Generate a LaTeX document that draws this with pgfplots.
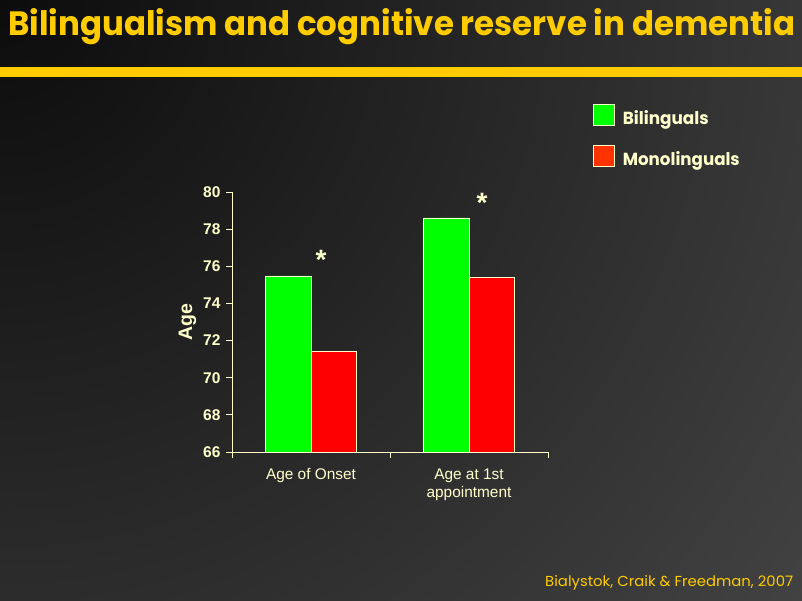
\documentclass[border=0pt]{standalone}
\usepackage{pgfplots}
\pgfplotsset{compat=1.18}
\usepackage{fontspec}
\setmainfont{Liberation Sans}
\newfontfamily\comic{Poppins}
\usepackage{graphicx}
\definecolor{bgdark}{HTML}{0C0C0C}
\definecolor{bggray}{HTML}{4A4A4A}
\definecolor{titleyellow}{HTML}{FFCC00}
\definecolor{cream}{HTML}{FFFFCC}
\definecolor{bargreen}{HTML}{00FF00}
\definecolor{barred}{HTML}{FF0000}
\definecolor{legred}{HTML}{FF3300}
\begin{document}
\begin{tikzpicture}[x=1pt,y=1pt]
\useasboundingbox (0,0) rectangle (802,601);
\fill[bggray] (0,0) rectangle (802,601);
\begin{scope}
\clip (0,0) rectangle (802,601);
\shade[inner color=bgdark, outer color=bggray] (0,601) circle (1150pt);
\end{scope}
% title
\node[anchor=base west, inner sep=0pt, text=titleyellow] at (8,565)
  {\resizebox{787pt}{27pt}{\comic\bfseries Bilingualism and cognitive reserve in dementia}};
\fill[titleyellow] (0,524) rectangle (802,534);
% citation
\node[anchor=base west, inner sep=0pt, text=titleyellow] at (545,14)
  {\resizebox{248pt}{11pt}{\comic Bialystok, Craik \& Freedman, 2007}};
\begin{axis}[
  at={(232pt,149pt)}, anchor=south west,
  scale only axis, width=316pt, height=260pt,
  xmin=-0.5, xmax=1.5, ymin=66, ymax=80,
  axis x line*=bottom, axis y line*=left,
  axis line style={cream, line width=0.9pt},
  every tick/.style={cream, line width=0.9pt},
  tick align=outside, major tick length=6pt,
  ytick={66,68,...,80},
  yticklabel style={font=\fontsize{15.5}{18}\selectfont\bfseries, text=cream, xshift=-2pt},
  /pgf/number format/assume math mode=true,
  xtick={-0.5,0.5,1.5}, xticklabels={},
  extra x ticks={0,1},
  extra x tick labels={Age of Onset, {Age at 1st\\appointment}},
  extra x tick style={major tick length=0pt,
     xticklabel style={font=\fontsize{15.4}{18.5}\selectfont, text=cream, align=center, yshift=-13pt}},
  ylabel={Age},
  ylabel shift=0pt,
  ylabel style={font=\fontsize{19.5}{22}\selectfont\bfseries, text=cream},
  ybar, bar width=0.288,
  clip=true,
  legend style={draw=none, fill=none, at={(1.1424,1.338)}, anchor=north west,
     inner sep=0pt, outer sep=0pt, row sep=13pt, column sep=8pt,
     nodes={inner sep=0pt, text=cream}},
  legend cell align=left,
  legend image code/.code={\draw[#1] (0pt,-4pt) rectangle (21pt,17pt);},
]
\addplot[fill=bargreen, draw=cream, line width=0.7pt, bar shift=-0.144, forget plot]
  coordinates {(0,75.48) (1,78.6)};
\addplot[fill=barred, draw=cream, line width=0.7pt, bar shift=0.144, forget plot]
  coordinates {(0,71.4) (1,75.42)};
\addlegendimage{fill=bargreen, draw=cream, line width=0.8pt}
\addlegendentry{\raisebox{6pt}{\resizebox{86pt}{14pt}{\comic\bfseries Bilinguals}}}
\addlegendimage{fill=legred, draw=cream, line width=0.8pt}
\addlegendentry{\raisebox{6pt}{\resizebox{117pt}{14pt}{\comic\bfseries Monolinguals}}}
\node[anchor=base, text=cream, font=\fontsize{28}{28}\selectfont\bfseries, inner sep=0pt] at (axis cs:0.063,75.8) {*};
\node[anchor=base, text=cream, font=\fontsize{28}{28}\selectfont\bfseries, inner sep=0pt] at (axis cs:1.082,78.92) {*};
\end{axis}
\end{tikzpicture}
\end{document}
